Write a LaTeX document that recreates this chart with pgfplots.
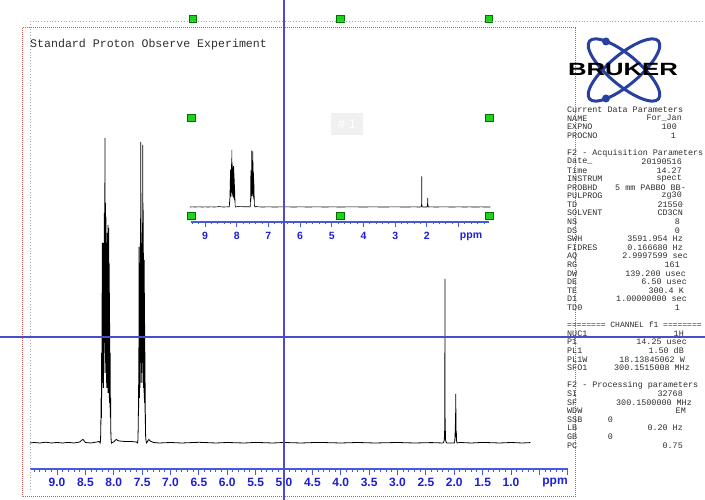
\documentclass[border=0pt]{standalone}
\usepackage{fontspec}
\setmainfont{Liberation Sans}
\setmonofont{Liberation Mono}
\usepackage{pgfplots}
\usepackage{pgfplotstable}
\pgfplotsset{compat=1.18}

\definecolor{tkblue}{RGB}{30,30,215}
\definecolor{axblue}{RGB}{70,90,225}
\definecolor{xhair}{RGB}{75,75,205}
\definecolor{reddot}{RGB}{200,90,90}
\definecolor{graydot}{RGB}{170,170,170}
\definecolor{hgreen}{RGB}{30,210,30}
\definecolor{hgreendk}{RGB}{0,110,0}
\definecolor{brublue}{RGB}{40,65,160}
\definecolor{ptext}{RGB}{45,45,45}

\pgfplotstableread{
p i
9.48 0
9.40 0.5
9.30 0
9.20 0.8
9.10 0
9.00 0.5
8.90 0
8.80 0.6
8.70 0
8.60 1
8.56 3
8.54 3.5
8.52 2
8.50 0.5
8.40 0
8.30 1
8.26 1.5
8.245 0.5
8.240 0
8.234 2
8.229 10
8.225 30
8.222 45
8.218 25
8.214 90
8.210 45
8.207 150
8.204 60
8.201 200
8.198 70
8.195 185
8.192 60
8.189 200
8.186 70
8.183 170
8.180 55
8.177 195
8.174 70
8.171 200
8.168 90
8.165 230
8.162 100
8.159 260
8.156 120
8.154 305
8.151 110
8.148 240
8.145 80
8.142 210
8.139 70
8.136 226
8.133 90
8.130 200
8.127 60
8.124 190
8.121 55
8.118 200
8.115 70
8.112 210
8.109 80
8.106 195
8.103 50
8.100 218
8.097 60
8.094 200
8.091 50
8.088 215
8.085 55
8.082 180
8.079 45
8.076 150
8.073 40
8.070 120
8.067 35
8.063 90
8.059 25
8.055 45
8.051 10
8.046 3
8.040 0
8.030 0.5
8.00 1
7.97 3
7.95 3.5
7.93 2.5
7.90 2
7.80 1.5
7.70 1.5
7.60 1
7.580 0
7.574 3
7.569 15
7.565 35
7.561 60
7.558 35
7.555 196
7.552 50
7.549 150
7.546 45
7.543 180
7.540 55
7.537 160
7.534 60
7.531 200
7.528 80
7.525 301
7.522 100
7.519 250
7.516 80
7.513 200
7.510 70
7.507 180
7.504 60
7.501 190
7.498 80
7.495 220
7.492 100
7.489 298
7.486 110
7.483 240
7.480 70
7.477 190
7.474 55
7.471 170
7.468 50
7.465 183
7.462 45
7.459 150
7.456 40
7.453 120
7.450 30
7.446 60
7.442 15
7.437 5
7.430 2
7.420 0
7.40 2
7.38 3.5
7.36 2
7.30 0.5
7.20 0
7.00 0.5
6.80 0
6.50 0.7
6.20 0
6.00 0.5
5.70 0
5.50 0.6
5.20 0
5.00 0.5
4.70 0
4.40 0.6
4.00 0
3.70 0.5
3.40 0
3.00 0.5
2.70 0
2.40 0.4
2.200 0
2.185 1
2.175 3
2.170 12
2.167 5
2.1655 40
2.164 164
2.1625 40
2.160 6
2.157 12
2.153 3
2.145 1
2.130 0
2.000 0
1.990 2
1.985 10
1.982 5
1.978 30
1.976 15
1.974 49
1.972 18
1.970 34
1.967 6
1.964 12
1.960 2
1.950 0
1.90 0.5
1.70 0
1.50 0.6
1.20 0
1.00 0.5
0.80 0
0.66 0.4
0.50 0
0.30 0.3
0.00 0
}\spec

\newcommand\pfont{\ttfamily\fontsize{8.4}{9}\selectfont}
\newcommand\prow[4]{%
  \node[anchor=west,inner sep=0pt,font=\pfont,text=ptext] at (567,{390-#1*8.6}) {#2};
  \node[anchor=east,inner sep=0pt,font=\pfont,text=ptext] at (#4,{390-#1*8.6}) {#3};}
\newcommand\phead[2]{%
  \node[anchor=west,inner sep=0pt,font=\pfont,text=ptext] at (567,{390-#1*8.6}) {#2};}

\begin{document}
\begin{tikzpicture}

% main spectrum (x = -ppm)
\begin{axis}[at={(30pt,31pt)}, anchor=south west, scale only axis,
  width=538pt, height=426pt,
  xmin=-9.4758, xmax=0.0044, ymin=-26, ymax=400,
  clip=false,
  axis x line*=bottom, axis y line=none,
  x axis line style={axblue, line width=1.2pt},
  xtick={-9,-8.5,-8,-7.5,-7,-6.5,-6,-5.5,-5,-4.5,-4,-3.5,-3,-2.5,-2,-1.5,-1},
  xticklabel={\pgfmathparse{-\tick}\pgfmathprintnumber[fixed,fixed zerofill,precision=1,assume math mode=true]{\pgfmathresult}},
  extra x ticks={-0.5,0}, extra x tick labels={},
  extra x tick style={major tick length=6pt},
  minor xtick={-9.4,-9.3,-9.2,-9.1,-8.9,-8.8,-8.7,-8.6,-8.4,-8.3,-8.2,-8.1,-7.9,-7.8,-7.7,-7.6,-7.4,-7.3,-7.2,-7.1,-6.9,-6.8,-6.7,-6.6,-6.4,-6.3,-6.2,-6.1,-5.9,-5.8,-5.7,-5.6,-5.4,-5.3,-5.2,-5.1,-4.9,-4.8,-4.7,-4.6,-4.4,-4.3,-4.2,-4.1,-3.9,-3.8,-3.7,-3.6,-3.4,-3.3,-3.2,-3.1,-2.9,-2.8,-2.7,-2.6,-2.4,-2.3,-2.2,-2.1,-1.9,-1.8,-1.7,-1.6,-1.4,-1.3,-1.2,-1.1,-0.9,-0.8,-0.7,-0.6,-0.4,-0.3,-0.2,-0.1},
  tick align=outside, major tick length=6pt, minor tick length=3pt,
  every tick/.style={axblue, line width=1pt},
  xticklabel style={font=\bfseries\fontsize{12}{12}\selectfont, text=tkblue},
  ]
  \addplot[black, line width=0.8pt, restrict x to domain=-9.48:-0.66] table[x expr=-\thisrow{p}, y=i] {\spec};
  \addplot[only marks, mark=square*, mark size=3.8pt,
     mark options={fill=hgreen, draw=hgreendk, line width=0.6pt}]
     coordinates {(-6.604,424) (-4.013,424) (-1.388,424)};
\end{axis}

% inset
\begin{axis}[at={(191pt,278pt)}, anchor=south west, scale only axis,
  width=298pt, height=71pt,
  xmin=-9.442, xmax=-0.041, ymin=-80.2, ymax=299.5,
  clip=false,
  axis x line*=bottom, axis y line=none,
  x axis line style={axblue, line width=1.1pt},
  xtick={-9,-8,-7,-6,-5,-4,-3,-2},
  xticklabel={\pgfmathparse{-\tick}\pgfmathprintnumber[fixed,precision=0,assume math mode=true]{\pgfmathresult}},
  extra x ticks={-1}, extra x tick labels={},
  extra x tick style={major tick length=5pt},
  minor xtick={-9.4,-9.2,-8.8,-8.6,-8.4,-8.2,-7.8,-7.6,-7.4,-7.2,-6.8,-6.6,-6.4,-6.2,-5.8,-5.6,-5.4,-5.2,-4.8,-4.6,-4.4,-4.2,-3.8,-3.6,-3.4,-3.2,-2.8,-2.6,-2.4,-2.2,-1.8,-1.6,-1.4,-1.2,-0.8,-0.6,-0.4,-0.2},
  tick align=outside, major tick length=5pt, minor tick length=2.5pt,
  every tick/.style={axblue, line width=0.9pt},
  xticklabel style={font=\bfseries\fontsize{10.5}{11}\selectfont, text=tkblue, yshift=-2pt},
  ]
  \addplot[black, line width=0.6pt] table[x expr=-\thisrow{p}, y=i] {\spec};
  \addplot[only marks, mark=square*, mark size=3.8pt,
     mark options={fill=hgreen, draw=hgreendk, line width=0.6pt}]
     coordinates {(-9.442,476) (-0.041,476) (-9.442,-48.1) (-4.741,-48.1) (-0.041,-48.1)};
\end{axis}

\begin{scope}[x=1pt,y=1pt]
% frames
\draw[graydot, dotted, line width=0.8pt] (30,479) -- (705,479);
\draw[graydot, dotted, line width=0.8pt] (30,479) -- (30,10);
\draw[reddot, densely dotted, line width=1pt] (22,472) rectangle (575,3);

% Bruker logo
\begin{scope}[brublue, line width=3pt]
  \draw[rotate around={-40:(624,430)}] (624,430) ellipse (45 and 15);
  \draw[rotate around={40:(624,430)}] (624,430) ellipse (45 and 15);
  \fill (606,458.5) circle (4);
  \fill (606,401.5) circle (4);
\end{scope}
\node[font=\bfseries\fontsize{17.7}{18}\selectfont, xscale=1.45, inner sep=0pt] at (623,430) {BRUKER};

% title
\node[anchor=west, inner sep=0pt, font=\ttfamily\fontsize{11.6}{12}\selectfont, text=ptext] at (30,455) {Standard Proton Observe Experiment};

\node[font=\bfseries\fontsize{12}{12}\selectfont, text=tkblue] at (555,17) {ppm};
\node[font=\bfseries\fontsize{10.5}{11}\selectfont, text=tkblue] at (471,263) {ppm};

% inset label box
\fill[gray!12] (331,365) rectangle (363,387);
\node[font=\fontsize{13}{13}\selectfont, text=white] at (347,376) {\# 1};

% parameter panel
\phead{0}{Current Data Parameters}
\prow{1}{NAME}{For\_Jan}{682}
\prow{2}{EXPNO}{100}{677}
\prow{3}{PROCNO}{1}{676}
\phead{5}{F2 - Acquisition Parameters}
\prow{6}{Date\_}{20190516}{682}
\prow{7}{Time}{14.27}{682}
\prow{8}{INSTRUM}{spect}{682}
\prow{9}{PROBHD}{5 mm PABBO BB-}{686}
\prow{10}{PULPROG}{zg30}{682}
\prow{11}{TD}{21550}{683}
\prow{12}{SOLVENT}{CD3CN}{683}
\prow{13}{NS}{8}{680}
\prow{14}{DS}{0}{680}
\prow{15}{SWH}{3591.954 Hz}{683}
\prow{16}{FIDRES}{0.166680 Hz}{683}
\prow{17}{AQ}{2.9997599 sec}{688}
\prow{18}{RG}{161}{680}
\prow{19}{DW}{139.200 usec}{686}
\prow{20}{DE}{6.50 usec}{687}
\prow{21}{TE}{300.4 K}{684}
\prow{22}{D1}{1.00000000 sec}{687}
\prow{23}{TD0}{1}{680}
\node[anchor=west,inner sep=0pt,font=\ttfamily\fontsize{8}{9}\selectfont,text=ptext] at (567,{390-25*8.6}) {======== CHANNEL f1 ========};
\prow{26}{NUC1}{1H}{684}
\prow{27}{P1}{14.25 usec}{687}
\prow{28}{PL1}{1.50 dB}{684}
\prow{29}{PL1W}{18.13845062 W}{685}
\prow{30}{SFO1}{300.1515008 MHz}{690}
\phead{32}{F2 - Processing parameters}
\prow{33}{SI}{32768}{683}
\prow{34}{SF}{300.1500000 MHz}{692}
\prow{35}{WDW}{EM}{686}
\prow{36}{SSB}{0}{613}
\prow{37}{LB}{0.20 Hz}{683}
\prow{38}{GB}{0}{613}
\prow{39}{PC}{0.75}{683}

% crosshair
\draw[xhair, line width=1.1pt] (284,0) -- (284,500);
\draw[xhair, line width=1.1pt] (0,163) -- (705,163);
\end{scope}

\pgfresetboundingbox
\path[use as bounding box] (0pt,0pt) rectangle (705pt,500pt);
\end{tikzpicture}
\end{document}
